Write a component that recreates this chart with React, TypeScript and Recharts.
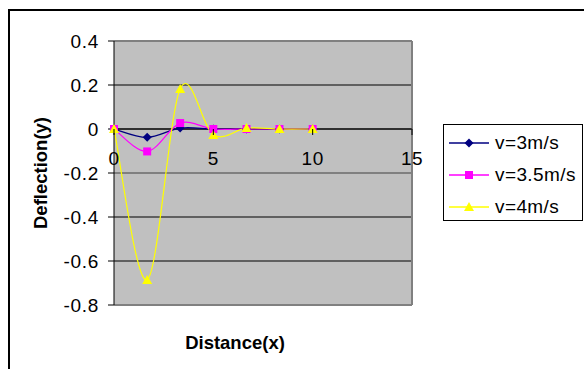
import React from 'react';
import { LineChart, Line, XAxis, YAxis, CartesianGrid, ReferenceLine } from 'recharts';

const DISTANCE = [0, 1.67, 3.33, 5, 6.67, 8.33, 10];
const V3 = [0, -0.038, 0.004, 0, 0, 0, 0];
const V35 = [0, -0.102, 0.027, 0, 0, 0, 0];
const V4 = [0, -0.686, 0.182, -0.027, 0.004, 0, 0];
const X_TICKS = [0, 5, 10, 15];
const Y_TICKS = [-0.8, -0.6, -0.4, -0.2, 0, 0.2, 0.4];

const NAVY = '#000080';
const MAGENTA = '#FF00FF';
const YELLOW = '#FFFF00';
const FONT = '"Liberation Sans", Arial, sans-serif';

const data = DISTANCE.map((x, i) => ({ x, v3: V3[i], v35: V35[i], v4: V4[i] }));

// plot box (zero line sits a third of the way down)
const PLOT_TOP = 41;
const PLOT_H = 264;
const ZERO_Y = PLOT_TOP + PLOT_H / 3;

// Excel-style smoothing: Catmull-Rom through every point
const smooth = (context: any) => {
  let pts: number[][] = [];
  return {
    areaStart() {},
    areaEnd() {},
    lineStart() { pts = []; },
    point(x: number, y: number) { pts.push([+x, +y]); },
    lineEnd() {
      if (!pts.length) return;
      context.moveTo(pts[0][0], pts[0][1]);
      for (let i = 0; i < pts.length - 1; i++) {
        const p0 = pts[Math.max(i - 1, 0)];
        const p1 = pts[i];
        const p2 = pts[i + 1];
        const p3 = pts[Math.min(i + 2, pts.length - 1)];
        context.bezierCurveTo(
          p1[0] + (p2[0] - p0[0]) / 6, p1[1] + (p2[1] - p0[1]) / 6,
          p2[0] - (p3[0] - p1[0]) / 6, p2[1] - (p3[1] - p1[1]) / 6,
          p2[0], p2[1],
        );
      }
    },
  };
};

const Diamond = ({ cx, cy, color }: any) => (
  <path d={`M${cx},${cy - 4.5}L${cx + 4.5},${cy}L${cx},${cy + 4.5}L${cx - 4.5},${cy}Z`} fill={color} />
);
const Square = ({ cx, cy, color }: any) => (
  <rect x={cx - 4} y={cy - 4} width={8} height={8} fill={color} />
);
const Triangle = ({ cx, cy, color }: any) => (
  <path d={`M${cx},${cy - 5}L${cx + 5},${cy + 4}L${cx - 5},${cy + 4}Z`} fill={color} />
);

const SERIES = [
  { key: 'v3', name: 'v=3m/s', color: NAVY, Marker: Diamond },
  { key: 'v35', name: 'v=3.5m/s', color: MAGENTA, Marker: Square },
  { key: 'v4', name: 'v=4m/s', color: YELLOW, Marker: Triangle },
];

const XTick = ({ x, payload }: any) => (
  <g>
    <line x1={x} x2={x} y1={ZERO_Y} y2={ZERO_Y + 6} stroke="#000" />
    <text x={x} y={ZERO_Y + 29} textAnchor="middle" dominantBaseline="central"
      fontSize={19} letterSpacing={0.5} fill="#000" fontFamily={FONT}>
      {payload.value}
    </text>
  </g>
);

const XTitle = ({ viewBox }: any) => (
  <text x={viewBox.x + viewBox.width / 2 - 28} y={342} textAnchor="middle" dominantBaseline="central"
    fontSize={18.5} fontWeight="bold" fontFamily={FONT} fill="#000">
    Distance(x)
  </text>
);

const YTitle = () => (
  <text x={40} y={173} transform="rotate(-90 40 173)" textAnchor="middle" dominantBaseline="central"
    fontSize={18.5} fontWeight="bold" fontFamily={FONT} fill="#000">
    Deflection(y)
  </text>
);

function LegendBox() {
  return (
    <div style={{
      position: 'absolute', left: 443, top: 124, width: 138, height: 95,
      border: '1px solid #000', background: '#fff', fontFamily: FONT, fontSize: 19, letterSpacing: 0.4,
    }}>
      {SERIES.map((s, i) => (
        <div key={s.key} style={{ position: 'absolute', left: 0, top: 2 + i * 32, height: 32, display: 'flex', alignItems: 'center' }}>
          <svg width={50} height={20} style={{ display: 'block' }}>
            <line x1={5} x2={45} y1={10} y2={10} stroke={s.color} strokeWidth={1.5} />
            <s.Marker cx={25} cy={10} color={s.color} />
          </svg>
          <span style={{ whiteSpace: 'nowrap', marginLeft: 1 }}>{s.name}</span>
        </div>
      ))}
    </div>
  );
}

export default function App() {
  return (
    <div style={{ position: 'fixed', left: 0, top: 0, width: 584, height: 369, overflow: 'hidden', background: '#fff' }}>
      <div style={{ position: 'absolute', left: 8, top: 9, width: 700, height: 500, border: '2px solid #000' }} />
      <div style={{ position: 'absolute', left: 0, top: 0 }}>
        <LineChart width={584} height={369} data={data} margin={{ top: PLOT_TOP, right: 172, bottom: 0, left: 20 }}>
          <CartesianGrid fill="#C0C0C0" stroke="#000" vertical={false} />
          <ReferenceLine y={0.4} stroke="#808080" strokeWidth={2} />
          <ReferenceLine y={-0.8} stroke="#808080" strokeWidth={2} />
          <ReferenceLine y={-0.2} stroke="#808080" strokeWidth={2} />
          <ReferenceLine x={15} stroke="#808080" strokeWidth={2} />
          <ReferenceLine y={0} stroke="#000" />
          <XAxis dataKey="x" type="number" domain={[0, 15]} ticks={X_TICKS} height={64}
            axisLine={false} tickLine={false} tick={<XTick />} label={<XTitle />} interval={0} />
          <YAxis type="number" domain={[-0.8, 0.4]} ticks={Y_TICKS} width={94} interval={0}
            axisLine={{ stroke: '#000' }} tickLine={{ stroke: '#000' }} tickSize={6} tickMargin={9}
            tick={{ fontSize: 19, fill: '#000', fontFamily: FONT, letterSpacing: 0.7 }} label={<YTitle />} />
          {SERIES.map((s) => (
            <Line key={s.key} dataKey={s.key} name={s.name} type={smooth as any} stroke={s.color} strokeWidth={1.2}
              isAnimationActive={false}
              dot={(p: any) => <s.Marker key={`${s.key}-${p.index}`} cx={p.cx} cy={p.cy} color={s.color} />}
              activeDot={false} />
          ))}
        </LineChart>
      </div>
      <LegendBox />
    </div>
  );
}
